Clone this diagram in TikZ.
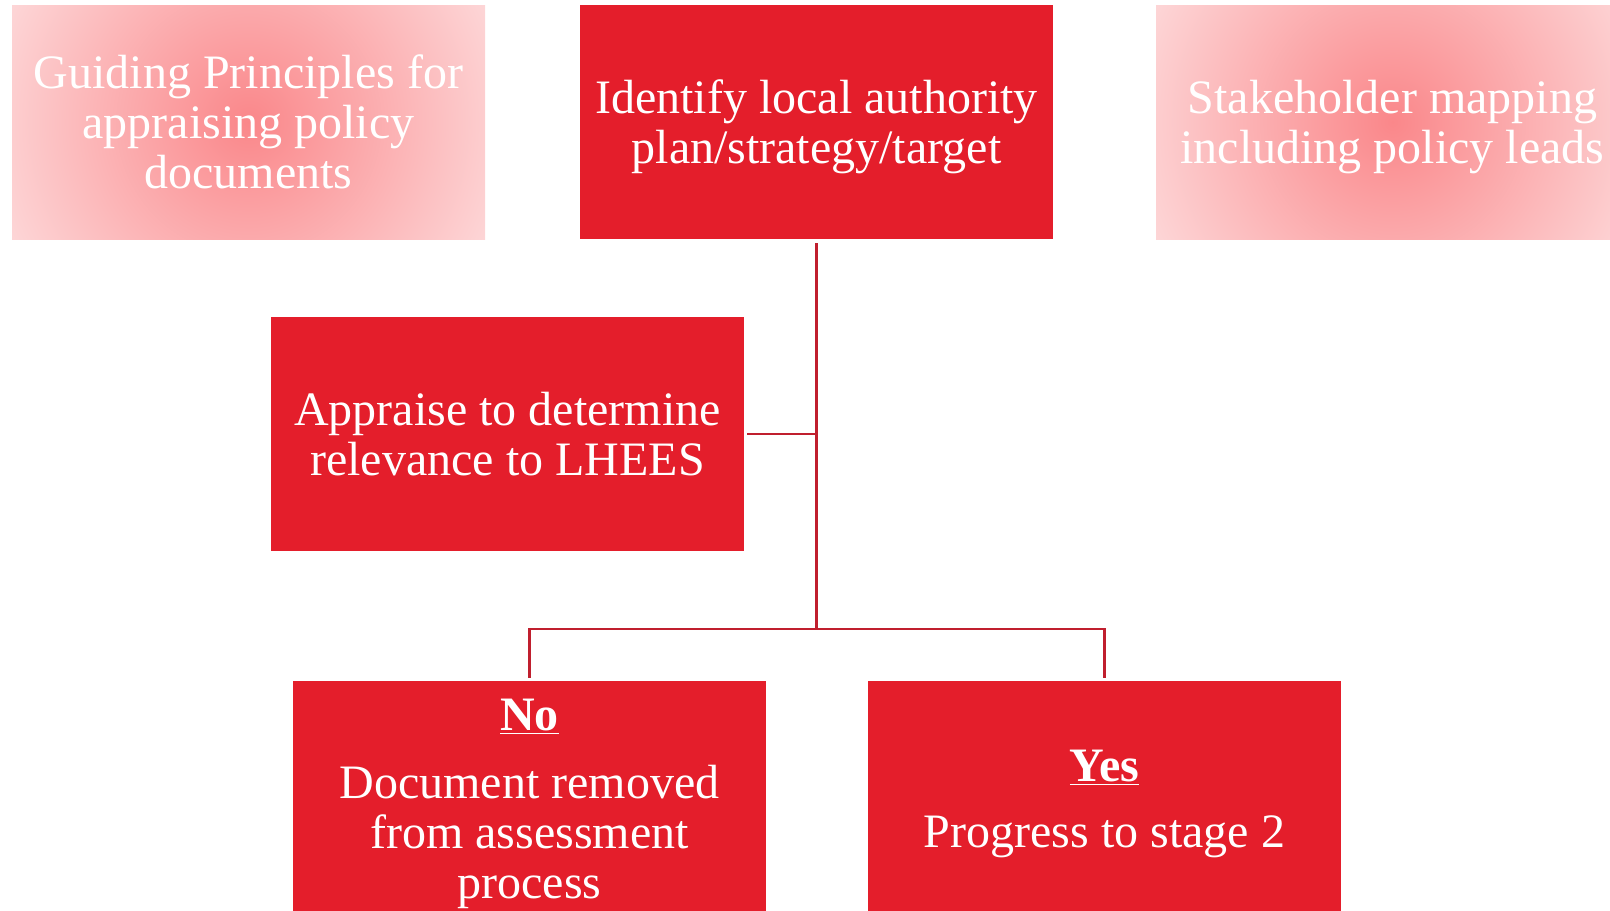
\documentclass[tikz,border=0pt]{standalone}
\usepackage{fontspec}
\setmainfont{Liberation Serif}
\definecolor{boxred}{HTML}{E41E2B}
\definecolor{linkred}{HTML}{C01F2E}
\definecolor{fadein}{HTML}{FA878A}
\definecolor{fadeout}{HTML}{FDD6D7}
\newcommand\tallline{\rule{0pt}{0.9em}}
\tikzset{
  stage/.style={rectangle, fill=boxred, text=white, minimum width=236.5pt,
    minimum height=117pt, inner sep=0pt, align=center,
    font=\fontsize{24pt}{25pt}\selectfont},
  aside/.style={stage, fill=none, path picture={
      \shade[inner color=fadein, outer color=fadeout]
        (path picture bounding box.center) circle (133pt);}},
  link/.style={draw=linkred, line width=1.4pt},
}
\begin{document}
\begin{tikzpicture}[x=0.5pt,y=-0.5pt]
  \useasboundingbox (0,0) rectangle (1610,910);
  \clip (0,0) rectangle (1610,910);

  % top row
  \node[aside] (guide) at (248.5,122) {Guiding Principles for\\appraising policy\\documents};
  \node[stage] (identify) at (816.5,122) {\tallline Identify local authority\\plan/strategy/target};
  \node[aside] (stake) at (1392.5,122) {\tallline Stakeholder mapping\\including policy leads};

  \node[stage] (appraise) at (507.5,434) {Appraise to determine\\relevance to LHEES};

  % outcomes
  \node[stage] (no) at (529.5,798) {\tallline\underline{\textbf{No}}\\[9pt]Document removed\\from assessment\\process};
  \node[stage] (yes) at (1104.5,798) {\tallline\underline{\textbf{Yes}}\\[8pt]Progress to stage 2};

  \coordinate (fork) at (816.5,629);
  \draw[link, shorten <=2pt] (identify) -- (fork);
  \draw[link, shorten <=1.5pt] (appraise) -- (appraise -| identify);
  \draw[link, shorten <=1.5pt, shorten >=1.5pt] (no) |- (fork) -| (yes);
\end{tikzpicture}
\end{document}
